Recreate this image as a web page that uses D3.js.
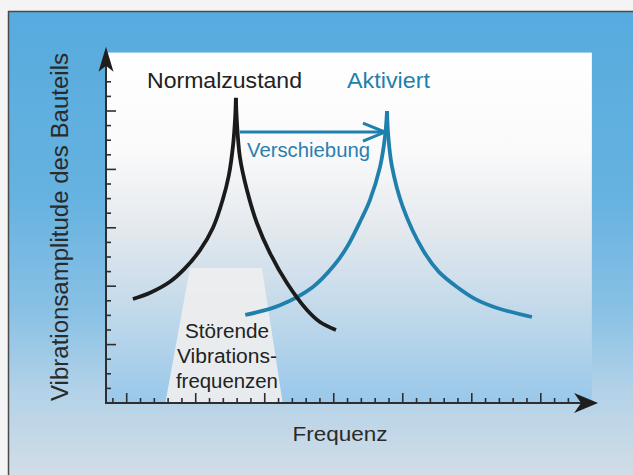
<!DOCTYPE html>
<html><head><meta charset="utf-8">
<script src="https://cdn.jsdelivr.net/npm/d3@7"></script>
<style>html,body{margin:0;padding:0;background:#f3f3f3;}svg{display:block;font-family:"Liberation Sans",Arial,sans-serif;}</style>
</head><body>
<svg id="c" width="633" height="475"></svg>
<script>
// ---- data (frequency in arbitrary units, amplitude in arbitrary units) ----
const normalLeft  = [[2.45,7.12],[3.7,7.55],[5.13,8.3],[6.2,9.2],[7.3,10.45],[8.25,12.0],[8.95,13.9],[9.4,15.6],[9.7,17.6],[9.86,19.6],[9.91,20.9]];
const normalRight = [[9.91,20.9],[9.98,19.3],[10.2,16.85],[10.71,14.59],[11.43,12.33],[12.38,10.27],[13.61,8.22],[15.06,6.37],[16.0,5.55],[17.16,5.0]];
const activeLeft  = [[10.59,6.03],[13.1,6.7],[15.49,7.95],[17.0,9.4],[17.96,10.68],[19.0,12.6],[19.62,13.9],[20.35,16.16],[20.71,18.22],[20.86,20.0]];
const activeRight = [[20.86,20.0],[20.95,18.3],[21.2,16.3],[22.01,13.42],[23.46,10.48],[24.6,9.0],[25.93,7.95],[27.3,7.1],[28.83,6.51],[31.36,5.89]];
const bandTop = [6.58, 11.8];        // disturbing frequency band, top edge
const bandBottom = [4.8, 13.3];      // disturbing frequency band, bottom edge
const bandHeight = 9.25;
const shiftFrom = 10.2, shiftTo = 20.71, shiftLevel = 18.56;
const xTickValues = d3.range(1, 35);
const yTickValues = d3.range(1, 23);
const labels = {
  y: "Vibrationsamplitude des Bauteils", x: "Frequenz",
  normal: "Normalzustand", active: "Aktiviert", shift: "Verschiebung",
  band: ["Störende", "Vibrations-", "frequenzen"]
};

// ---- layout ----
const svg = d3.select("#c");
const x = d3.scaleLinear().domain([0.5, 36]).range([106, 596]);
const y = d3.scaleLinear().domain([0, 24]).range([403, 52.6]);
const defs = svg.append("defs");

const og = defs.append("linearGradient").attr("id","outerG").attr("x1",0).attr("y1",0).attr("x2",0).attr("y2",1);
[[0,"#57abde"],[0.4,"#66b2e0"],[0.65,"#8ac1e5"],[0.82,"#b3d2e8"],[1,"#d2dde6"]].forEach(s=>og.append("stop").attr("offset",s[0]).attr("stop-color",s[1]));
const ig = defs.append("linearGradient").attr("id","innerG").attr("x1",0).attr("y1",0).attr("x2",0).attr("y2",1);
[[0,"#ffffff"],[0.28,"#fafafa"],[0.5,"#e4e9ee"],[0.75,"#c0d8ea"],[1,"#99c8ea"]].forEach(s=>ig.append("stop").attr("offset",s[0]).attr("stop-color",s[1]));

// outer panel + frame
svg.append("rect").attr("x",0).attr("y",0).attr("width",633).attr("height",475).attr("fill","#f4f4f4");
svg.append("rect").attr("x",9).attr("y",12).attr("width",624).attr("height",463).attr("fill","url(#outerG)");
svg.append("line").attr("x1",8).attr("x2",633).attr("y1",11.5).attr("y2",11.5).attr("stroke","#4a4a4a").attr("stroke-width",1.5);
svg.append("line").attr("x1",8.5).attr("x2",8.5).attr("y1",11).attr("y2",475).attr("stroke","#4a4a4a").attr("stroke-width",1.5);

// plot area
svg.append("rect").attr("x",x(0.5)).attr("y",y(24)).attr("width",x(35.7)-x(0.5)).attr("height",y(0)-y(24)).attr("fill","url(#innerG)");

// disturbing band (trapezoid)
svg.append("path")
  .attr("d", d3.line()([[x(bandBottom[0]),y(0)],[x(bandTop[0]),y(bandHeight)],[x(bandTop[1]),y(bandHeight)],[x(bandBottom[1]),y(0)]]) + "Z")
  .attr("fill","#ecedee").attr("opacity",0.95);
const bandCx = x((bandTop[0]+bandTop[1])/2) + 1;
[[labels.band[0],338,84],[labels.band[1],363,100],[labels.band[2],388,102]].forEach(d=>{
  svg.append("text").attr("x",bandCx).attr("y",d[1]).attr("text-anchor","middle")
    .attr("font-size",20).attr("fill","#222").attr("textLength",d[2]).attr("lengthAdjust","spacingAndGlyphs").text(d[0]);
});

// axes
const axisColor = "#2e2e2e";
svg.append("line").attr("x1",x(0.5)).attr("x2",x(35.2)).attr("y1",y(0)).attr("y2",y(0)).attr("stroke",axisColor).attr("stroke-width",2);
svg.append("line").attr("x1",x(0.5)).attr("x2",x(0.5)).attr("y1",y(0)+1).attr("y2",y(23.3)).attr("stroke",axisColor).attr("stroke-width",2);
svg.selectAll(".xt").data(xTickValues).enter().append("line")
  .attr("x1",d=>x(d)).attr("x2",d=>x(d)).attr("y1",y(0)).attr("y2",d=>y(0)-((d-2)%5===0?10:5))
  .attr("stroke",axisColor).attr("stroke-width",1.6);
svg.selectAll(".yt").data(yTickValues).enter().append("line")
  .attr("y1",d=>y(d)).attr("y2",d=>y(d)).attr("x1",x(0.5)).attr("x2",d=>x(0.5)+(d%4===0?10:5))
  .attr("stroke",axisColor).attr("stroke-width",1.6);
// arrowheads
const ax = x(0.5), tipY = y(24.4);
svg.append("path").attr("d",`M${ax},${tipY} L${ax+7.5},${tipY+25} L${ax},${tipY+19} L${ax-7.5},${tipY+25} Z`).attr("fill","#1e1e1e");
const tipX = x(36.15), ay = y(0);
svg.append("path").attr("d",`M${tipX},${ay} L${tipX-24},${ay+10} L${tipX-17},${ay} L${tipX-24},${ay-10} Z`).attr("fill","#1e1e1e");

// axis titles
svg.append("text").attr("transform",`translate(68,${227}) rotate(-90)`).attr("text-anchor","middle")
  .attr("font-size",23).attr("fill","#2a2a2a").attr("textLength",348).attr("lengthAdjust","spacingAndGlyphs").text(labels.y);
svg.append("text").attr("x",340).attr("y",441).attr("text-anchor","middle")
  .attr("font-size",20.5).attr("fill","#2a2a2a").attr("textLength",95).attr("lengthAdjust","spacingAndGlyphs").text(labels.x);

// curves
const line = d3.line().x(d=>x(d[0])).y(d=>y(d[1])).curve(d3.curveCatmullRom.alpha(0.5));
const blue = "#1f80ad";
[activeLeft, activeRight].forEach(s=>svg.append("path").attr("d",line(s)).attr("fill","none").attr("stroke",blue).attr("stroke-width",3.8));
[normalLeft, normalRight].forEach(s=>svg.append("path").attr("d",line(s)).attr("fill","none").attr("stroke","#1b1b1b").attr("stroke-width",3.8));

// shift arrow
const sy = y(shiftLevel);
svg.append("line").attr("x1",x(shiftFrom)).attr("x2",x(shiftTo)-3).attr("y1",sy).attr("y2",sy).attr("stroke",blue).attr("stroke-width",2.8);
svg.append("path").attr("d",`M${x(shiftTo)-22},${sy-9} L${x(shiftTo)},${sy} L${x(shiftTo)-22},${sy+9}`)
  .attr("fill","none").attr("stroke",blue).attr("stroke-width",3).attr("stroke-linejoin","miter");

// labels
svg.append("text").attr("x",147).attr("y",88).attr("font-size",21.5).attr("fill","#222")
  .attr("textLength",155).attr("lengthAdjust","spacingAndGlyphs").text(labels.normal);
svg.append("text").attr("x",347).attr("y",88).attr("font-size",21.5).attr("fill",blue)
  .attr("textLength",83).attr("lengthAdjust","spacingAndGlyphs").text(labels.active);
svg.append("text").attr("x",247).attr("y",157).attr("font-size",20).attr("fill","#2a7fb0")
  .attr("textLength",123).attr("lengthAdjust","spacingAndGlyphs").text(labels.shift);
</script>
</body></html>
